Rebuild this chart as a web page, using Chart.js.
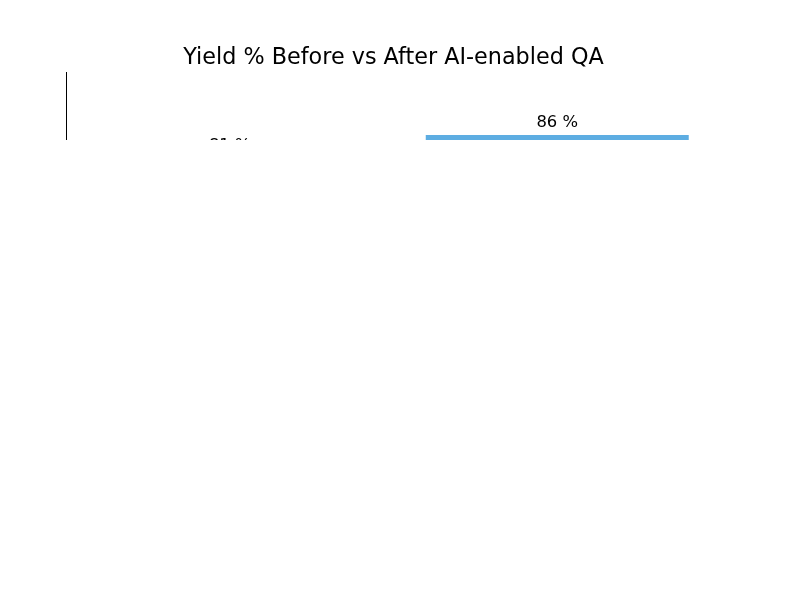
<!DOCTYPE html>
<html>
<head>
<meta charset="utf-8">
<script src="https://cdn.jsdelivr.net/npm/chart.js@4"></script>
<style>
  html, body { margin: 0; padding: 0; background: #ffffff; }
  #page { position: relative; width: 800px; height: 600px; background: #ffffff; }
  #clip { position: absolute; left: 0; top: 0; width: 800px; height: 140px; overflow: hidden; }
</style>
</head>
<body>
<div id="page">
  <div id="clip">
    <canvas id="c" width="800" height="600"></canvas>
  </div>
</div>
<script>
const titleText = 'Yield % Before vs After AI-enabled QA';
const categories = ['Before', 'After'];
const yieldValues = [81, 86];
const barColors = ['#A6A6A6', '#5DADE2'];
const yMin = 0;
const yMax = 100;

const overlay = {
  id: 'overlay',
  afterDatasetsDraw(chart) {
    const ctx = chart.ctx;
    const area = chart.chartArea;
    ctx.save();
    // left spine
    ctx.strokeStyle = '#000000';
    ctx.lineWidth = 1;
    ctx.beginPath();
    ctx.moveTo(Math.round(area.left) + 0.5, area.top);
    ctx.lineTo(Math.round(area.left) + 0.5, area.bottom);
    ctx.stroke();
    // value labels
    ctx.fillStyle = '#000000';
    ctx.font = '16.4px "DejaVu Sans"';
    ctx.textAlign = 'center';
    ctx.textBaseline = 'alphabetic';
    const meta = chart.getDatasetMeta(0);
    meta.data.forEach((bar, i) => {
      ctx.fillText(yieldValues[i] + ' %', bar.x, bar.y - 8);
    });
    // title
    ctx.font = '22.3px "DejaVu Sans"';
    ctx.fillText(titleText, (area.left + area.right) / 2, 64);
    ctx.restore();
  }
};

new Chart(document.getElementById('c'), {
  type: 'bar',
  data: {
    labels: categories,
    datasets: [{
      data: yieldValues,
      backgroundColor: barColors,
      borderWidth: 0,
      barPercentage: 0.803,
      categoryPercentage: 1.0
    }]
  },
  options: {
    responsive: false,
    devicePixelRatio: 1,
    animation: false,
    layout: { padding: { left: 66, right: 79, top: 72, bottom: 78 } },
    plugins: {
      legend: { display: false },
      title: { display: false },
      tooltip: { enabled: false }
    },
    scales: {
      x: { display: false },
      y: { display: false, min: yMin, max: yMax }
    }
  },
  plugins: [overlay]
});
</script>
</body>
</html>
